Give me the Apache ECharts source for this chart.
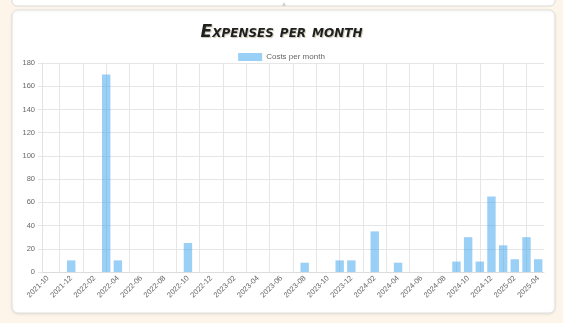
<!DOCTYPE html>
<html>
<head>
<meta charset="utf-8">
<script src="https://cdn.jsdelivr.net/npm/echarts@6/dist/echarts.min.js"></script>
<style>
  html, body { margin: 0; padding: 0; background: #fdf4ea; }
  #chart { width: 563px; height: 323px; }
</style>
</head>
<body>
<div id="chart"></div>
<script>
// Monthly costs, October 2021 through April 2025
const months = [
  '2021-10', '2021-11', '2021-12',
  '2022-01', '2022-02', '2022-03', '2022-04', '2022-05', '2022-06',
  '2022-07', '2022-08', '2022-09', '2022-10', '2022-11', '2022-12',
  '2023-01', '2023-02', '2023-03', '2023-04', '2023-05', '2023-06',
  '2023-07', '2023-08', '2023-09', '2023-10', '2023-11', '2023-12',
  '2024-01', '2024-02', '2024-03', '2024-04', '2024-05', '2024-06',
  '2024-07', '2024-08', '2024-09', '2024-10', '2024-11', '2024-12',
  '2025-01', '2025-02', '2025-03', '2025-04'
];
const costs = [
  0, 0, 10,
  0, 0, 170, 10, 0, 0,
  0, 0, 0, 25, 0, 0,
  0, 0, 0, 0, 0, 0,
  0, 8, 0, 0, 10, 10,
  0, 35, 0, 8, 0, 0,
  0, 0, 9, 30, 9, 65,
  23, 11, 30, 11
];
const yTicks = { min: 0, max: 180, step: 20 };
const seriesName = 'Costs per month';
const titleText = 'Expenses per month';

// vertical grid lines sit on every other month, between the shown labels
const gridMonths = months.filter((m, i) => i % 2 === 1);

const chart = echarts.init(document.getElementById('chart'), null, { renderer: 'canvas' });

const gridColor = '#e6e6e6';
const labelColor = '#666';
const font = '"Liberation Sans", Arial, sans-serif';

chart.setOption({
  animation: false,
  backgroundColor: '#fdf4ea',
  graphic: [
    // card above (only its lower edge shows)
    {
      type: 'rect', z: -10,
      shape: { x: 12, y: -20, width: 543, height: 26, r: 5 },
      style: { fill: '#ffffff', stroke: '#d9d9d9', lineWidth: 1 }
    },
    {
      type: 'polygon', z: -9,
      shape: { points: [[282, 6], [286, 6], [284, 2]] },
      style: { fill: '#cfcfcf' }
    },
    // chart card
    {
      type: 'rect', z: -10,
      shape: { x: 12, y: 10, width: 543, height: 303, r: 6 },
      style: {
        fill: '#ffffff', stroke: '#e0e0e0', lineWidth: 1,
        shadowBlur: 3, shadowColor: 'rgba(0,0,0,0.08)', shadowOffsetY: 1
      }
    }
  ],
  title: {
    text: titleText,
    left: 'center',
    top: 19,
    textStyle: {
      fontFamily: '"DejaVu Sans", sans-serif',
      fontStyle: 'italic small-caps',
      fontWeight: 'bold',
      fontSize: 17,
      color: '#1f1f1f',
      textShadowColor: 'rgba(120,110,60,0.4)',
      textShadowBlur: 1,
      textShadowOffsetX: 1,
      textShadowOffsetY: 1
    }
  },
  legend: {
    top: 48,
    left: 'center',
    itemWidth: 24,
    itemHeight: 8,
    itemGap: 10,
    icon: 'rect',
    textStyle: { fontFamily: font, fontSize: 8, color: labelColor, padding: [0, 0, 0, -1] },
    data: [seriesName]
  },
  grid: { left: 42, right: 19, top: 63, bottom: 51, containLabel: false },
  xAxis: {
    type: 'category',
    data: months,
    boundaryGap: true,
    axisLine: { show: true, lineStyle: { color: '#dcdcdc', width: 1 } },
    axisTick: { show: false },
    splitLine: { show: false },
    axisLabel: {
      interval: 1,
      rotate: 45,
      margin: 5,
      fontFamily: font,
      fontSize: 7.5,
      color: labelColor
    }
  },
  yAxis: {
    type: 'value',
    min: yTicks.min,
    max: yTicks.max,
    interval: yTicks.step,
    axisLine: { show: true, lineStyle: { color: '#e2e2e2', width: 1 } },
    axisTick: { show: true, length: 4, lineStyle: { color: gridColor } },
    splitLine: { show: true, lineStyle: { color: gridColor, width: 1 } },
    axisLabel: { margin: 7, fontFamily: font, fontSize: 7.5, color: labelColor }
  },
  series: [{
    name: seriesName,
    type: 'bar',
    data: costs,
    barWidth: '72%',
    itemStyle: { color: 'rgba(54,162,235,0.5)', borderWidth: 0 },
    emphasis: { disabled: true },
    markLine: {
      silent: true,
      symbol: 'none',
      z: 1,
      label: { show: false },
      lineStyle: { color: gridColor, type: 'solid', width: 1 },
      data: gridMonths.map(m => ({ xAxis: m }))
    }
  }]
});
</script>
</body>
</html>
